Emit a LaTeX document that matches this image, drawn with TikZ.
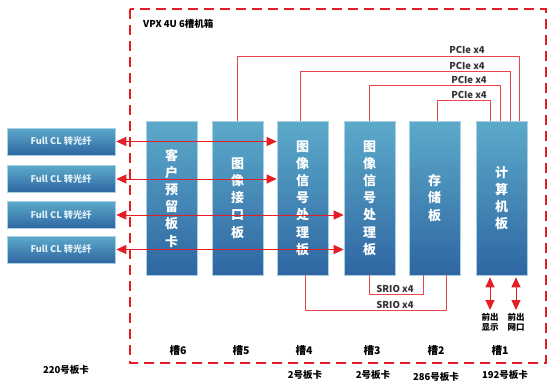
\documentclass[tikz,border=0pt]{standalone}
\usepackage{fontspec}
\setmainfont{Noto Sans CJK SC}
\usetikzlibrary{arrows.meta}
\definecolor{cardtop}{RGB}{92,170,202}
\definecolor{cardbot}{RGB}{46,102,162}
\definecolor{cardrim}{RGB}{170,208,228}
\definecolor{redline}{RGB}{236,70,76}
\definecolor{redarrow}{RGB}{228,30,36}
\definecolor{fulltext}{RGB}{226,240,248}
\begin{document}
\begin{tikzpicture}[x=1pt, y=-1pt, font=\bfseries,
  card/.style={draw=cardrim, line width=0.6pt, top color=cardtop, bottom color=cardbot,
               minimum width=51pt, minimum height=154pt, inner sep=0pt, align=center,
               text=white, font=\fontsize{13}{17.2}\selectfont\bfseries},
  fullcl/.style={draw=cardrim, line width=0.6pt, top color=cardtop, bottom color=cardbot,
                 minimum width=108pt, minimum height=27pt, inner sep=0pt,
                 text=fulltext, font=\fontsize{9.2}{10}\selectfont\bfseries},
  bus/.style={redline, line width=1pt},
  link/.style={redarrow, line width=1pt, {Triangle[length=10pt,width=9pt]}-{Triangle[length=10pt,width=9pt]}},
  buslabel/.style={font=\fontsize{9.5}{10}\selectfont\bfseries, text=black!80, inner sep=0pt},
  slot/.style={font=\fontsize{10.5}{11}\selectfont\bfseries, inner sep=0pt},
  board/.style={font=\fontsize{9.5}{10}\selectfont\bfseries, inner sep=0pt},
]
\useasboundingbox (0,0) rectangle (548,383);

% chassis outline
\draw[redarrow, line width=1.6pt, dash pattern=on 10pt off 6pt] (130,9) rectangle (546,363);
\node[font=\fontsize{9.5}{10}\selectfont\bfseries, anchor=west, inner sep=0pt] (title) at (143,24) {VPX 4U 6槽机箱};

% the six slot cards
\node[card] (card6) at (171.5,198) {客\\户\\预\\留\\板\\卡};
\node[card] (card5) at (237.5,198) {图\\像\\接\\口\\板};
\node[card] (card4) at (302.5,198) {图\\像\\信\\号\\处\\理\\板};
\node[card] (card3) at (369.5,198) {图\\像\\信\\号\\处\\理\\板};
\node[card] (card2) at (434.5,198) {存\\储\\板};
\node[card] (card1) at (501.5,198) {计\\算\\机\\板};

% external fibre converters
\node[fullcl] (f1) at (61,141.5) {Full CL 转光纤};
\node[fullcl] (f2) at (61,179)   {Full CL 转光纤};
\node[fullcl] (f3) at (61,215)   {Full CL 转光纤};
\node[fullcl] (f4) at (61,249.5) {Full CL 转光纤};

\draw[link] ([xshift=1pt]f1.east) -- (card4.west |- f1.east);
\draw[link] ([xshift=1pt]f2.east) -- (card4.west |- f2.east);
\draw[link] ([xshift=1pt]f3.east) -- (card3.west |- f3.east);
\draw[link] ([xshift=1pt]f4.east) -- (card3.west |- f4.east);

% PCIe links into the computer board
\draw[bus] (card5.north) -- (card5.north |- 0,56) -| ([xshift=17.5pt]card1.north);
\draw[bus] ([xshift=-2.5pt]card4.north) -- ([xshift=-2.5pt]card4.north |- 0,71) -| ([xshift=8.5pt]card1.north);
\draw[bus] (card3.north) -- (card3.north |- 0,85) -| ([xshift=-1.5pt]card1.north);
\draw[bus] ([xshift=2.5pt]card2.north) -- ([xshift=2.5pt]card2.north |- 0,100) -| ([xshift=-11.5pt]card1.north);
\node[buslabel] (p1) at (467,50) {PCIe x4};
\node[buslabel] (p2) at (467,66) {PCIe x4};
\node[buslabel] (p3) at (469,80) {PCIe x4};
\node[buslabel] (p4) at (469,95) {PCIe x4};

% SRIO links into the storage board
\draw[bus] (card3.south) -- (card3.south |- 0,294) -| ([xshift=-11.5pt]card2.south);
\draw[bus] ([xshift=2.5pt]card4.south) -- ([xshift=2.5pt]card4.south |- 0,310) -| ([xshift=11.5pt]card2.south);
\node[buslabel] (s1) at (395,289) {SRIO x4};
\node[buslabel] (s2) at (395,305) {SRIO x4};

% front panel outputs
\coordinate (disp) at (490,310);
\coordinate (net) at (516,310);
\draw[link] ([xshift=-11.5pt, yshift=-2pt]card1.south) -- (disp);
\draw[link] ([xshift=14.5pt, yshift=-2pt]card1.south) -- (net);
\node[font=\fontsize{8.5}{10.5}\selectfont\bfseries, align=center, inner sep=0pt, anchor=north] (dispt) at (490,313) {前出\\显示};
\node[font=\fontsize{8.5}{10.5}\selectfont\bfseries, align=center, inner sep=0pt, anchor=north] (nett) at (516,313) {前出\\网口};

% slot numbers and board ids
\node[slot] (l6) at (178,351) {槽6};
\node[slot] (l5) at (241,351) {槽5};
\node[slot] (l4) at (304,351) {槽4};
\node[slot] (l3) at (372,351) {槽3};
\node[slot] (l2) at (436,351) {槽2};
\node[slot] (l1) at (500,351) {槽1};
\node[board] (b0) at (66,370)  {220号板卡};
\node[board] (b4) at (305,375) {2号板卡};
\node[board] (b3) at (373,375) {2号板卡};
\node[board] (b2) at (436,377) {286号板卡};
\node[board] (b1) at (505,375) {192号板卡};
\end{tikzpicture}
\end{document}
